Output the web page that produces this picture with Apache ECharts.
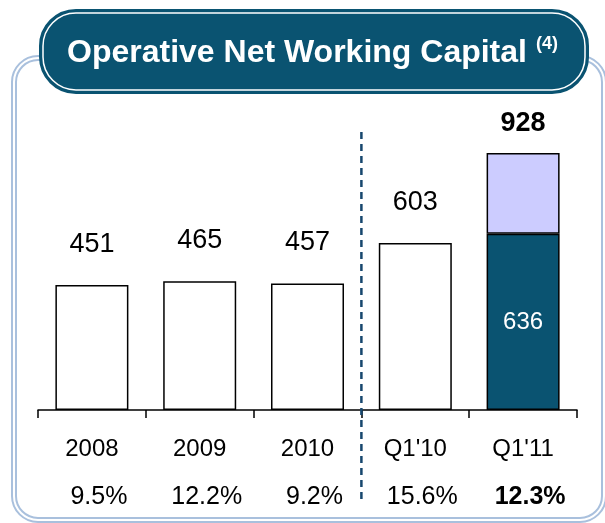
<!DOCTYPE html>
<html>
<head>
<meta charset="utf-8">
<script src="https://cdn.jsdelivr.net/npm/echarts@6/dist/echarts.min.js"></script>
<style>
  html, body { margin: 0; padding: 0; background: #fff; }
  #chart { width: 605px; height: 523px; }
</style>
</head>
<body>
<div id="chart"></div>
<script>
// 数据
const categories = ['2008', '2009', '2010', "Q1'10", "Q1'11"]
const totals = [451, 465, 457, 603, 928]
const baseValues = [451, 465, 457, 603, 636]
const ratios = ['9.5%', '12.2%', '9.2%', '15.6%', '12.3%']

const FONT = 'Liberation Sans, Arial, sans-serif'
const DARK = '#0a5371'
const LAVENDER = '#ccccff'
const last = categories.length - 1

const chart = echarts.init(document.getElementById('chart'))

const baseData = baseValues.map((v, i) => {
  if (i === last) {
    return {
      value: v,
      itemStyle: { color: DARK },
      label: { show: true, position: 'inside', color: '#fff', fontSize: 24 }
    }
  }
  return { value: v }
})

const topData = totals.map((t, i) => (i === last ? t - baseValues[i] : '-'))

chart.setOption({
  animation: false,
  textStyle: { fontFamily: FONT },
  grid: { left: 38, right: 28, top: 133, bottom: 113 },
  xAxis: {
    type: 'category',
    data: categories,
    axisLine: { lineStyle: { color: '#000', width: 1.5 } },
    axisTick: { show: true, interval: 0, inside: false, length: 8, lineStyle: { color: '#000', width: 1.5 } },
    axisLabel: {
      margin: 15,
      interval: 0,
      formatter(val, idx) {
        const p = idx === last ? 'pb' : 'p'
        return `{c|${val}}\n{${p}|${ratios[idx]}}`
      },
      rich: {
        c: { fontSize: 24, lineHeight: 48, color: '#000', fontFamily: FONT },
        p: { fontSize: 25, lineHeight: 48, color: '#000', fontFamily: FONT, padding: [0, 0, 0, 14] },
        pb: { fontSize: 25, lineHeight: 48, color: '#000', fontFamily: FONT, fontWeight: 'bold', padding: [0, 0, 0, 14] }
      }
    }
  },
  yAxis: { type: 'value', min: 0, max: 1000, show: false },
  series: [
    {
      type: 'bar',
      stack: 'total',
      barWidth: 73,
      data: baseData,
      itemStyle: { color: '#fff', borderColor: '#000', borderWidth: 1.5 },
      label: { show: true, position: 'top', distance: 27, fontSize: 27, color: '#000' }
    },
    {
      type: 'bar',
      stack: 'total',
      barWidth: 73,
      data: topData,
      itemStyle: { color: LAVENDER, borderColor: '#000', borderWidth: 1.5 },
      label: {
        show: true,
        position: 'top',
        distance: 16,
        fontSize: 27,
        fontWeight: 'bold',
        color: '#000',
        formatter: p => totals[p.dataIndex]
      }
    }
  ]
})

// 分隔虚线：位于 2010 与 Q1'10 之间
const c0 = chart.convertToPixel({ xAxisIndex: 0 }, categories[0])
const c1 = chart.convertToPixel({ xAxisIndex: 0 }, categories[1])
const sepX = chart.convertToPixel({ xAxisIndex: 0 }, categories[3]) - (c1 - c0) / 2

chart.setOption({
  graphic: [
    {
      type: 'rect', z: -10,
      shape: { x: 14, y: 58, width: 590, height: 462, r: 24 },
      style: { fill: 'none', stroke: '#a9c0dd', lineWidth: 6 }
    },
    {
      type: 'rect', z: -9,
      shape: { x: 14, y: 58, width: 590, height: 462, r: 24 },
      style: { fill: 'none', stroke: '#fff', lineWidth: 2 }
    },
    {
      type: 'rect', z: 10,
      shape: { x: 40, y: 10, width: 548, height: 83, r: 36 },
      style: { fill: DARK, stroke: DARK, lineWidth: 2 }
    },
    {
      type: 'rect', z: 11,
      shape: { x: 43, y: 13, width: 542, height: 77, r: 33 },
      style: { fill: 'none', stroke: '#fff', lineWidth: 1.5 }
    },
    {
      type: 'text', z: 12, x: 67, y: 53,
      style: {
        text: 'Operative Net Working Capital',
        fill: '#fff', font: `bold 32px ${FONT}`,
        align: 'left', verticalAlign: 'middle'
      }
    },
    {
      type: 'text', z: 12, x: 536, y: 44,
      style: {
        text: '(4)',
        fill: '#fff', font: `bold 18px ${FONT}`,
        align: 'left', verticalAlign: 'middle'
      }
    },
    {
      type: 'line', z: 5,
      shape: { x1: sepX, y1: 132, x2: sepX, y2: 502 },
      style: { stroke: '#17476e', lineWidth: 2.5, lineDash: [7, 5] }
    }
  ]
})
</script>
</body>
</html>
